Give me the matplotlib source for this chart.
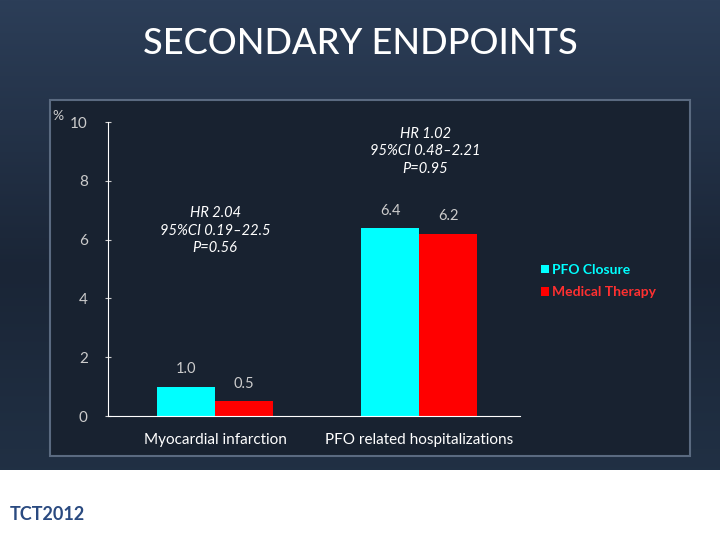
import matplotlib
matplotlib.use("Agg")
import matplotlib.pyplot as plt
from matplotlib.patches import Rectangle
from matplotlib.colors import LinearSegmentedColormap
import numpy as np

plt.rcParams['font.family'] = ['Lato', 'DejaVu Sans']

categories = ["Myocardial infarction", "PFO related hospitalizations"]
pfo_closure = [1.0, 6.4]
medical = [0.5, 6.2]
annotations = ["HR 2.04\n95%CI 0.19\u201322.5\nP=0.56", "HR 1.02\n95%CI 0.48\u20132.21\nP=0.95"]
yticks = [0, 2, 4, 6, 8, 10]

fig = plt.figure(figsize=(7.2, 5.4), dpi=100)
bg = fig.add_axes([0, 0, 1, 1], zorder=-10)
grad = np.linspace(0, 1, 256).reshape(-1, 1)
cm = LinearSegmentedColormap.from_list("g", ["#2c3e58", "#1a2536", "#233449"])
bg.imshow(grad, aspect="auto", cmap=cm, extent=[0, 1, 0, 1])
bg.add_patch(Rectangle((50/720, 1-456/540), 640/720, 356/540, facecolor="#182230",
                       edgecolor="#5a6a80", lw=1.5))
bg.add_patch(Rectangle((0, 0), 1, 1-470/540, facecolor="white", edgecolor="none"))
bg.set_xlim(0, 1); bg.set_ylim(0, 1); bg.axis("off")
fig.text(0.5, 1-44/540, "SECONDARY ENDPOINTS", color="white", fontsize=26,
         ha="center", va="center", fontweight="medium")
fig.text(10/720, 1-520/540, "TCT2012", color="#2a4a80", fontsize=13, fontweight="bold")

ax = fig.add_axes([108/720, 1-416/540, 412/720, 294/540])
ax.set_facecolor("none")
x = np.arange(len(categories))
w = 0.284
ax.bar(x - w/2, pfo_closure, w, color="#00ffff", label="PFO Closure")
ax.bar(x + w/2, medical, w, color="#ff0000", label="Medical Therapy")
ax.set_xlim(-0.525, 1.495)
ax.set_ylim(0, 10)
ax.set_yticks(yticks)
ax.set_xticks(x)
ax.set_xticklabels(categories, color="white", fontsize=11)
for s in ["top", "right"]:
    ax.spines[s].set_visible(False)
for s in ["left", "bottom"]:
    ax.spines[s].set_color("white")
ax.tick_params(axis="y", colors="#cccccc", labelsize=11, length=5, direction="inout", pad=12)
ax.tick_params(axis="x", length=0, pad=12)
for i in range(len(categories)):
    ax.text(x[i] - w/2, pfo_closure[i] + 0.45, f"{pfo_closure[i]:.1f}", ha="center",
            color="#cccccc", fontsize=10.5)
    ax.text(x[i] + w/2, medical[i] + 0.45, f"{medical[i]:.1f}", ha="center",
            color="#cccccc", fontsize=10.5)
ax.text(0.0, 6.3, annotations[0], ha="center", va="center", color="white",
        fontsize=10.5, style="italic", linespacing=1.3)
ax.text(1.03, 9.0, annotations[1], ha="center", va="center", color="white",
        fontsize=10.5, style="italic", linespacing=1.3)
fig.text(52/720, 1-120/540, "%", color="#cccccc", fontsize=10)
leg = ax.legend(loc="upper left", bbox_to_anchor=(1.02, 0.56), frameon=False,
                handlelength=0.6, handleheight=0.6, handletextpad=0.2, fontsize=10,
                labelspacing=0.75)
for t in leg.get_texts():
    t.set_color("#00ffff")
    t.set_fontweight("bold")
leg.get_texts()[1].set_color("#ff3030")
fig.savefig("out.png", dpi=100)
